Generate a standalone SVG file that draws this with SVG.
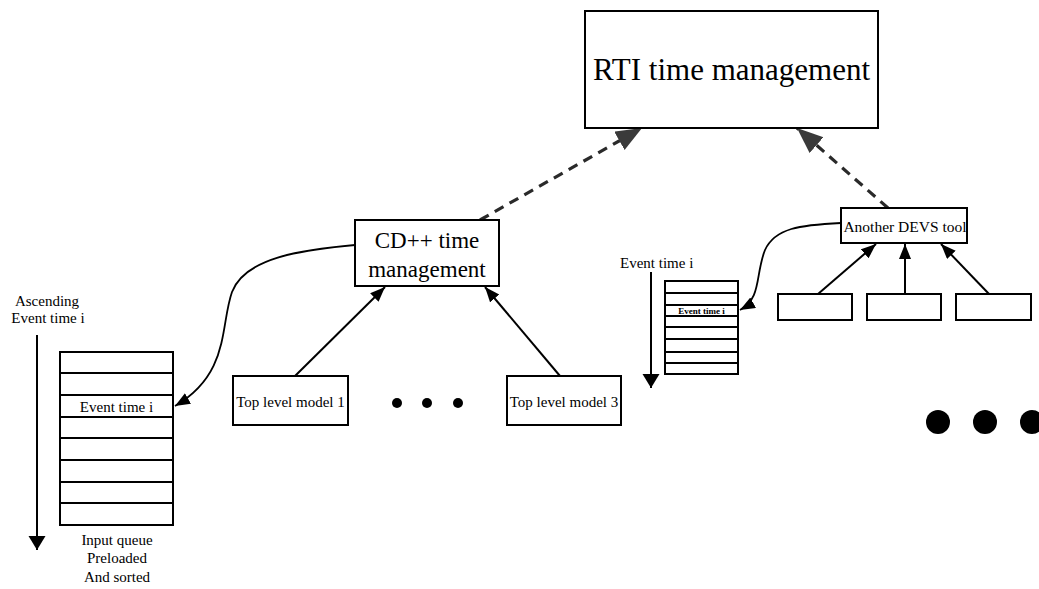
<svg xmlns="http://www.w3.org/2000/svg" width="1039" height="589" viewBox="0 0 1039 589">
  <style>
    .box { fill: #fff; stroke: #000; stroke-width: 2; }
    .cell { fill: none; stroke: #000; stroke-width: 1.8; }
    .t { font-family: "Liberation Serif", "Times New Roman", serif; fill: #000; }
    .solid { fill: none; stroke: #000; stroke-width: 2; marker-end: url(#arrow); }
    .curve { fill: none; stroke: #000; stroke-width: 1.8; marker-end: url(#arrow); }
    .dash { fill: none; stroke: #2a2a2a; stroke-width: 3.2; stroke-dasharray: 10 7; marker-end: url(#arrowDash); }
    .axis { fill: none; stroke: #000; stroke-width: 2; marker-end: url(#arrowAxis); }
    .dot { fill: #000; }
  </style>
  <defs>
    <marker id="arrow" markerUnits="userSpaceOnUse" markerWidth="16" markerHeight="13" refX="15" refY="6" orient="auto">
      <path d="M0,0 L15,6 L0,12 z" fill="#000"/>
    </marker>
    <marker id="arrowDash" markerUnits="userSpaceOnUse" markerWidth="27" markerHeight="23" refX="26" refY="10.5" orient="auto">
      <path d="M0,0 L26,10.5 L0,21 z" fill="#3a3a3a"/>
    </marker>
    <marker id="arrowAxis" markerUnits="userSpaceOnUse" markerWidth="15" markerHeight="18" refX="14" refY="8.5" orient="auto">
      <path d="M0,0 L14,8.5 L0,17 z" fill="#000"/>
    </marker>
  </defs>
  <rect width="1039" height="589" fill="#fff"/>

  <!-- connectors -->
  <g id="connectors">
    <path class="dash" d="M480,220 L642,128"/>
    <path class="dash" d="M888,208 L797,128"/>
    <path class="solid" d="M295,376 L385,287"/>
    <path class="solid" d="M560,376 L485,287"/>
    <path class="solid" d="M818,294 L876,244"/>
    <path class="solid" d="M905,294 L905,244"/>
    <path class="solid" d="M989,294 L941,244"/>
    <path class="curve" d="M355,245 C300,250 245,258 232,292 C220,326 230,374 175,406"/>
    <path class="curve" d="M841,223 C800,225 775,228 765,250 C755,275 762,298 740,310"/>
  </g>

  <!-- RTI time management -->
  <g id="rti">
    <rect class="box" x="585" y="11" width="293" height="117"/>
    <text class="t" x="731.5" y="80" font-size="31" text-anchor="middle">RTI time management</text>
  </g>

  <!-- CD++ time management -->
  <g id="cdpp">
    <rect class="box" x="355" y="220" width="144" height="66"/>
    <text class="t" x="427" y="248" font-size="23" text-anchor="middle">CD++ time</text>
    <text class="t" x="427" y="277" font-size="23" text-anchor="middle">management</text>
  </g>

  <!-- Another DEVS tool -->
  <g id="devs-tool">
    <rect class="box" x="841" y="208" width="126" height="35"/>
    <text class="t" x="905" y="232" font-size="15.5" text-anchor="middle">Another DEVS tool</text>
  </g>

  <!-- models of the other tool -->
  <g id="devs-model-1"><rect class="box" x="778" y="294" width="74" height="26"/></g>
  <g id="devs-model-2"><rect class="box" x="867" y="294" width="74" height="26"/></g>
  <g id="devs-model-3"><rect class="box" x="956" y="294" width="75" height="26"/></g>

  <!-- top level models -->
  <g id="top-model-1">
    <rect class="box" x="233" y="376" width="115" height="49"/>
    <text class="t" x="290.5" y="407" font-size="15" text-anchor="middle">Top level model 1</text>
  </g>
  <g id="top-model-3">
    <rect class="box" x="507" y="376" width="114" height="49"/>
    <text class="t" x="564" y="407" font-size="15" text-anchor="middle">Top level model 3</text>
  </g>

  <!-- ellipsis between models -->
  <g id="dots-small">
    <circle class="dot" cx="397" cy="403" r="5"/>
    <circle class="dot" cx="427" cy="403" r="5"/>
    <circle class="dot" cx="458" cy="403" r="5"/>
  </g>
  <g id="dots-large">
    <circle class="dot" cx="938" cy="422" r="12"/>
    <circle class="dot" cx="985" cy="422" r="12"/>
    <circle class="dot" cx="1032" cy="422" r="12"/>
  </g>

  <!-- CD++ input queue -->
  <g id="input-queue">
    <rect class="box" x="60" y="352" width="113" height="173"/>
    <path class="cell" d="M60,373 H173 M60,395 H173 M60,417 H173 M60,438 H173 M60,460 H173 M60,482 H173 M60,503 H173"/>
    <text class="t" x="116.5" y="412" font-size="15" text-anchor="middle">Event time i</text>
    <path class="axis" d="M37,335 L37,550"/>
    <text class="t" x="47" y="306" font-size="15" text-anchor="middle">Ascending</text>
    <text class="t" x="48" y="323" font-size="15" text-anchor="middle">Event time i</text>
    <text class="t" x="117" y="545" font-size="15" text-anchor="middle">Input queue</text>
    <text class="t" x="117" y="563" font-size="15" text-anchor="middle">Preloaded</text>
    <text class="t" x="117" y="582" font-size="15" text-anchor="middle">And sorted</text>
  </g>

  <!-- other tool's queue -->
  <g id="devs-queue">
    <rect class="box" x="665" y="281" width="73" height="93"/>
    <path class="cell" d="M665,293 H738 M665,305 H738 M665,316 H738 M665,327 H738 M665,339 H738 M665,352 H738 M665,363 H738"/>
    <text class="t" x="701.5" y="313.5" font-size="9" font-weight="bold" text-anchor="middle">Event time i</text>
    <path class="axis" d="M651,272 L651,388"/>
    <text class="t" x="620" y="268" font-size="15">Event time i</text>
  </g>
</svg>
